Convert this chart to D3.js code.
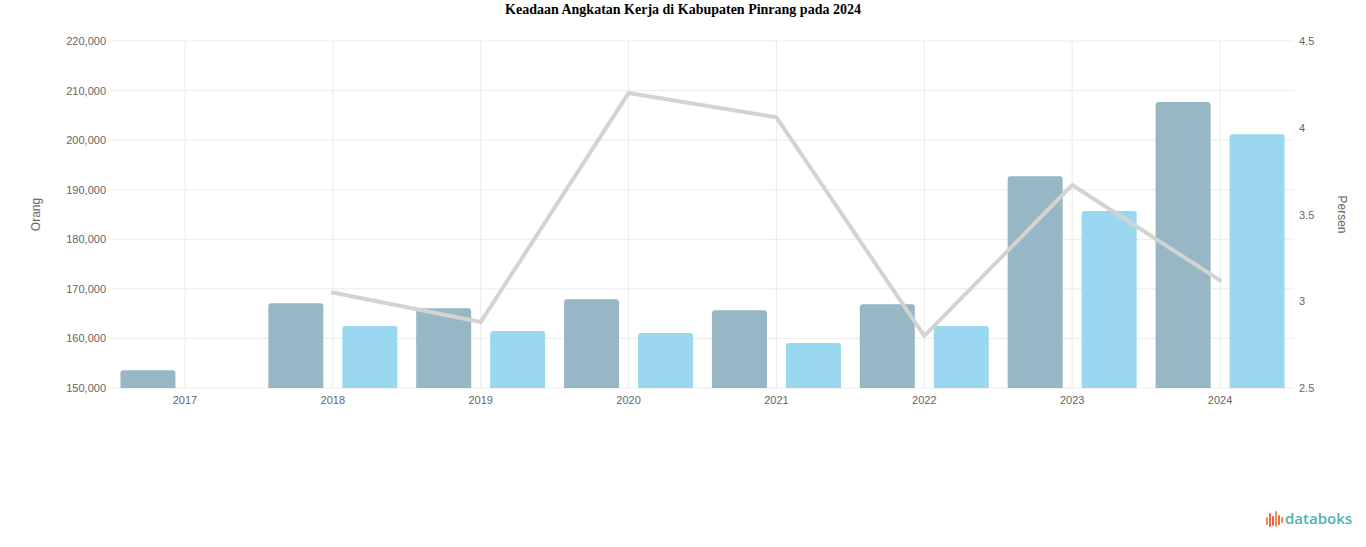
<!DOCTYPE html>
<html>
<head>
<meta charset="utf-8">
<script src="https://cdn.jsdelivr.net/npm/d3@7/dist/d3.min.js"></script>
<style>
  html, body { margin: 0; padding: 0; background: #fff; }
  svg { display: block; }
</style>
</head>
<body>
<svg id="chart" width="1366" height="547"></svg>
<script>
const years = ["2017", "2018", "2019", "2020", "2021", "2022", "2023", "2024"];
const angkatanKerja = [153600, 167100, 166100, 167900, 165700, 166900, 192700, 207700];
const bekerja = [null, 162500, 161500, 161100, 159100, 162500, 185700, 201200];
const tpt = [null, 3.05, 2.88, 4.2, 4.06, 2.8, 3.67, 3.12];
const leftTicks = [150000, 160000, 170000, 180000, 190000, 200000, 210000, 220000];
const rightTicks = [2.5, 3, 3.5, 4, 4.5];

const svg = d3.select("#chart");
const W = 1366, H = 547;
const m = { left: 111, right: 1294, top: 41, bottom: 388 };

const x = d3.scaleBand().domain(years).range([m.left, m.right]);
const yL = d3.scaleLinear().domain([150000, 220000]).range([m.bottom, m.top]);
const yR = d3.scaleLinear().domain([2.5, 4.5]).range([m.bottom, m.top]);
const cx = d => x(d) + x.bandwidth() / 2;

// title
svg.append("text")
  .attr("x", W / 2).attr("y", 14)
  .attr("text-anchor", "middle")
  .style("font-family", "'Liberation Serif', 'Times New Roman', serif")
  .style("font-weight", "bold").style("font-size", "14px").style("fill", "#000")
  .text("Keadaan Angkatan Kerja di Kabupaten Pinrang pada 2024");

// horizontal grid
svg.append("g").selectAll("line").data(leftTicks).join("line")
  .attr("x1", m.left).attr("x2", m.right)
  .attr("y1", d => yL(d)).attr("y2", d => yL(d))
  .attr("stroke", "#ebebeb").attr("stroke-width", 1);
// vertical grid
svg.append("g").selectAll("line").data(years).join("line")
  .attr("x1", d => cx(d)).attr("x2", d => cx(d))
  .attr("y1", m.top).attr("y2", m.bottom)
  .attr("stroke", "#ebebeb").attr("stroke-width", 1);

// bars
const bw = 55, off = 37;
const clip = svg.append("defs").append("clipPath").attr("id", "plot")
  .append("rect").attr("x", m.left).attr("y", m.top - 5).attr("width", m.right - m.left).attr("height", m.bottom - m.top + 5);
const gb = svg.append("g").attr("clip-path", "url(#plot)");
gb.selectAll("rect.ak").data(years.map((y, i) => ({ y, v: angkatanKerja[i] })).filter(d => d.v != null)).join("rect")
  .attr("class", "ak")
  .attr("x", d => cx(d.y) - off - bw / 2).attr("width", bw)
  .attr("y", d => yL(d.v)).attr("height", d => m.bottom - yL(d.v) + 4)
  .attr("rx", 3).attr("fill", "#96b7c3");
gb.selectAll("rect.bk").data(years.map((y, i) => ({ y, v: bekerja[i] })).filter(d => d.v != null)).join("rect")
  .attr("class", "bk")
  .attr("x", d => cx(d.y) + off - bw / 2).attr("width", bw)
  .attr("y", d => yL(d.v)).attr("height", d => m.bottom - yL(d.v) + 4)
  .attr("rx", 3).attr("fill", "#9ad8ef");

// line
const lineData = years.map((y, i) => ({ y, v: tpt[i] })).filter(d => d.v != null);
svg.append("path").datum(lineData)
  .attr("d", d3.line().x(d => cx(d.y)).y(d => yR(d.v)))
  .attr("fill", "none").attr("stroke", "#d3d3d3").attr("stroke-width", 4)
  .attr("stroke-linejoin", "round").attr("stroke-linecap", "round");

// axes
const fmt = d3.format(",");
const axL = svg.append("g").attr("transform", `translate(${m.left},0)`)
  .call(d3.axisLeft(yL).tickValues(leftTicks).tickFormat(fmt).tickSize(0).tickPadding(5));
const axR = svg.append("g").attr("transform", `translate(${m.right},0)`)
  .call(d3.axisRight(yR).tickValues(rightTicks).tickFormat(d => String(d)).tickSize(0).tickPadding(5));
const axB = svg.append("g").attr("transform", `translate(0,${m.bottom})`)
  .call(d3.axisBottom(x).tickSize(0).tickPadding(8));
[axL, axR, axB].forEach(a => {
  a.select(".domain").remove();
  a.selectAll("text").style("font-family", "'Liberation Sans', Arial, sans-serif")
    .style("font-size", "11px").style("fill", "#666");
});

// axis titles
svg.append("text").attr("transform", `translate(40,${(m.top + m.bottom) / 2}) rotate(-90)`)
  .attr("text-anchor", "middle")
  .style("font-family", "'Liberation Sans', Arial, sans-serif").style("font-size", "12px").style("fill", "#666")
  .text("Orang");
svg.append("text").attr("transform", `translate(1338,${(m.top + m.bottom) / 2}) rotate(90)`)
  .attr("text-anchor", "middle")
  .style("font-family", "'Liberation Sans', Arial, sans-serif").style("font-size", "12px").style("fill", "#666")
  .text("Persen");

// logo
const logo = svg.append("g").attr("transform", "translate(1266,511)");
const bars = [[0, 6, 8, "#f08a4b"], [3, 2, 14, "#ee6a4e"], [6, 5, 10, "#e95b5b"], [9, 0, 16, "#f08a4b"], [12, 4, 10, "#ee6a4e"], [15, 6, 6, "#f08a4b"]];
logo.selectAll("rect").data(bars).join("rect")
  .attr("x", d => d[0]).attr("y", d => d[1]).attr("width", 2).attr("height", d => d[2]).attr("rx", 1)
  .attr("fill", d => d[3]);
logo.append("text").attr("x", 19).attr("y", 13)
  .style("font-family", "'Open Sans', 'Noto Sans', sans-serif").style("font-size", "15px")
  .style("fill", "#4cb3b0").style("font-weight", "600")
  .text("databoks");
</script>
</body>
</html>
